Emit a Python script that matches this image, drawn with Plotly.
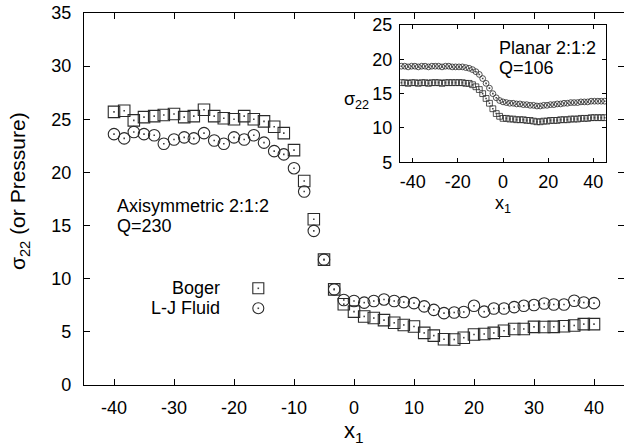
import plotly.graph_objects as go

# ---- main panel: axisymmetric 2:1:2 contraction, Q=230 ----
x_main = [-40.0, -38.3, -36.7, -35.0, -33.3, -31.7, -30.0, -28.3, -26.7, -25.0,
          -23.3, -21.7, -20.0, -18.3, -16.7, -15.0, -13.3, -11.7, -10.0, -8.3,
          -6.7, -5.0, -3.3, -1.7, 0.0, 1.7, 3.3, 5.0, 6.7, 8.3,
          10.0, 11.7, 13.3, 15.0, 16.7, 18.3, 20.0, 21.7, 23.3, 25.0,
          26.7, 28.3, 30.0, 31.7, 33.3, 35.0, 36.7, 38.3, 40.0]
boger_main = [25.7, 25.8, 24.9, 25.2, 25.3, 25.4, 25.5, 25.2, 25.3, 25.9,
              25.3, 25.1, 25.0, 25.3, 25.0, 24.8, 24.3, 23.7, 22.1, 19.2,
              15.6, 11.8, 9.0, 7.6, 6.9, 6.45, 6.3, 6.1, 5.85, 5.65,
              5.5, 4.9, 4.65, 4.3, 4.28, 4.45, 4.75, 4.8, 4.9, 5.1,
              5.27, 5.27, 5.47, 5.46, 5.47, 5.53, 5.6, 5.73, 5.73]
lj_main = [23.6, 23.2, 23.8, 23.6, 23.5, 22.7, 23.1, 23.3, 23.2, 23.7,
           23.0, 22.7, 23.3, 23.1, 23.5, 22.8, 22.0, 21.7, 20.4, 18.2,
           14.5, 11.8, 9.0, 8.0, 7.9, 7.75, 7.9, 8.05, 7.9, 7.8,
           7.7, 7.4, 7.07, 6.76, 6.82, 6.87, 7.45, 6.9, 7.2, 7.2,
           7.33, 7.45, 7.52, 7.67, 7.57, 7.57, 7.93, 7.76, 7.7]

# ---- inset: planar 2:1:2 contraction, Q=106 ----
x_inset = [-45.0, -43.5, -42.0, -40.5, -39.0, -37.5, -36.0, -34.5, -33.0, -31.5,
           -30.0, -28.5, -27.0, -25.5, -24.0, -22.5, -21.0, -19.5, -18.0, -16.5,
           -15.0, -13.5, -12.0, -10.5, -9.0, -7.5, -6.0, -4.5, -3.0, -1.5,
           0.0, 1.5, 3.0, 4.5, 6.0, 7.5, 9.0, 10.5, 12.0, 13.5,
           15.0, 16.5, 18.0, 19.5, 21.0, 22.5, 24.0, 25.5, 27.0, 28.5,
           30.0, 31.5, 33.0, 34.5, 36.0, 37.5, 39.0, 40.5, 42.0, 43.5, 45.0]
boger_inset = [16.6, 16.6, 16.5, 16.6, 16.6, 16.5, 16.6, 16.6, 16.5, 16.6,
               16.6, 16.6, 16.5, 16.6, 16.6, 16.6, 16.6, 16.6, 16.6, 16.5,
               16.5, 16.3, 16.0, 15.6, 15.0, 14.3, 13.6, 12.8, 12.1, 11.7,
               11.4, 11.4, 11.3, 11.3, 11.2, 11.2, 11.2, 11.1, 11.1, 11.0,
               10.9, 10.9, 11.0, 11.0, 11.1, 11.1, 11.1, 11.2, 11.2, 11.2,
               11.3, 11.3, 11.3, 11.4, 11.4, 11.4, 11.5, 11.5, 11.5, 11.5, 11.5]
lj_inset = [19.0, 19.0, 18.9, 19.0, 19.0, 18.9, 19.0, 19.0, 18.9, 19.0,
            19.0, 19.0, 18.9, 19.0, 19.0, 18.9, 18.9, 18.9, 18.9, 18.8,
            18.7, 18.5, 18.2, 17.8, 17.2, 16.5, 15.8, 15.0, 14.4, 14.0,
            13.8, 13.7, 13.6, 13.6, 13.5, 13.5, 13.4, 13.4, 13.3, 13.3,
            13.2, 13.2, 13.3, 13.3, 13.4, 13.4, 13.5, 13.5, 13.6, 13.6,
            13.7, 13.7, 13.7, 13.8, 13.8, 13.8, 13.9, 13.9, 13.9, 13.9, 13.9]

main_ticks = [-40, -30, -20, -10, 0, 10, 20, 30, 40]
main_yticks = [0, 5, 10, 15, 20, 25, 30, 35]
inset_ticks = [-40, -20, 0, 20, 40]
inset_yticks = [5, 10, 15, 20, 25]

FONT = "Liberation Sans, Arial, Helvetica, sans-serif"
EDGE = "#2a2a2a"

fig = go.Figure()


def add_series(x, y, symbol, size, xa, ya, lw):
    # open symbol plus a tiny dot at its centre
    fig.add_trace(go.Scatter(
        x=x, y=y, xaxis=xa, yaxis=ya, mode="markers", showlegend=False,
        marker=dict(symbol=symbol, size=size, color=EDGE,
                    line=dict(color=EDGE, width=lw))))
    fig.add_trace(go.Scatter(
        x=x, y=y, xaxis=xa, yaxis=ya, mode="markers", showlegend=False,
        marker=dict(symbol="square", size=1.6, color="#444", line=dict(width=0))))


add_series(x_main, boger_main, "square-open", 11.5, "x", "y", 1.1)
add_series(x_main, lj_main, "circle-open", 11.5, "x", "y", 1.1)
add_series(x_inset, boger_inset, "square-open", 5.8, "x2", "y2", 0.8)
add_series(x_inset, lj_inset, "circle-open", 5.8, "x2", "y2", 0.8)


def labels(vals):
    return [str(v) for v in vals]


axis_common = dict(showline=True, linecolor="black", linewidth=1.3, mirror="allticks",
                   ticks="inside", tickcolor="black", tickwidth=1, showgrid=False,
                   zeroline=False, tickfont=dict(family=FONT, size=18, color="black"))

fig.update_layout(
    width=624, height=447,
    margin=dict(l=84, r=0, t=13, b=62),
    paper_bgcolor="white", plot_bgcolor="white",
    showlegend=False,
    font=dict(family=FONT, color="black"),
    xaxis=dict(range=[-45, 45], domain=[0, 1], tickvals=main_ticks,
               ticktext=labels(main_ticks), ticklen=6, ticklabelstandoff=6, **axis_common),
    yaxis=dict(range=[0, 35], domain=[0, 1], tickvals=main_yticks,
               ticktext=labels(main_yticks), ticklen=6, ticklabelstandoff=8, **axis_common),
    xaxis2=dict(range=[-45.6, 45.6], domain=[0.5852, 0.9667], anchor="y2",
                tickvals=inset_ticks, ticktext=labels(inset_ticks), ticklen=4,
                ticklabelstandoff=3, **axis_common),
    yaxis2=dict(range=[5, 25], domain=[0.5987, 0.9677], anchor="x2",
                tickvals=inset_yticks, ticktext=labels(inset_yticks), ticklen=4,
                ticklabelstandoff=3, **axis_common),
)

ann = dict(showarrow=False, xref="paper", yref="paper",
           font=dict(family=FONT, size=18, color="black"))
fig.add_annotation(text="Axisymmetric 2:1:2", x=0.0574, y=0.4825,
                   xanchor="left", yanchor="middle", **ann)
fig.add_annotation(text="Q=230", x=0.0574, y=0.4274,
                   xanchor="left", yanchor="middle", **ann)
fig.add_annotation(text="Boger", x=0.2556, y=0.2599,
                   xanchor="right", yanchor="middle", **ann)
fig.add_annotation(text="L-J Fluid", x=0.2556, y=0.2062,
                   xanchor="right", yanchor="middle", **ann)
fig.add_annotation(text="Planar 2:1:2", x=0.7643, y=0.905,
                   xanchor="left", yanchor="middle", **ann)
fig.add_annotation(text="Q=106", x=0.7643, y=0.8513,
                   xanchor="left", yanchor="middle", **ann)

# axis titles
fig.add_annotation(text="x<sub>1</sub>", x=0.5, y=-0.125, xanchor="center",
                   yanchor="middle", showarrow=False, xref="paper", yref="paper",
                   font=dict(family=FONT, size=22, color="black"))
fig.add_annotation(text="σ<sub>22</sub> (or Pressure)", x=-0.12, y=0.522,
                   textangle=-90, xanchor="center", yanchor="middle", showarrow=False,
                   xref="paper", yref="paper", font=dict(family=FONT, size=21, color="black"))
fig.add_annotation(text="σ<sub>22</sub>", x=0.505, y=0.766, xanchor="center",
                   yanchor="middle", **ann)
fig.add_annotation(text="x<sub>1</sub>", x=0.776, y=0.484, xanchor="center",
                   yanchor="middle", **ann)

# legend keys: open symbol with centre dot, to the right of each label
for yk, kind in [(0.2599, "rect"), (0.2062, "circle")]:
    fig.add_shape(type=kind, xref="paper", yref="paper", xsizemode="pixel",
                  ysizemode="pixel", xanchor=0.3228, yanchor=yk,
                  x0=-5.5, x1=5.5, y0=-5.5, y1=5.5,
                  line=dict(color=EDGE, width=1.1), fillcolor="rgba(0,0,0,0)")
    fig.add_shape(type="rect", xref="paper", yref="paper", xsizemode="pixel",
                  ysizemode="pixel", xanchor=0.3228, yanchor=yk,
                  x0=-0.8, x1=0.8, y0=-0.8, y1=0.8,
                  line=dict(width=0), fillcolor="#444")

fig.write_html("out.html")
